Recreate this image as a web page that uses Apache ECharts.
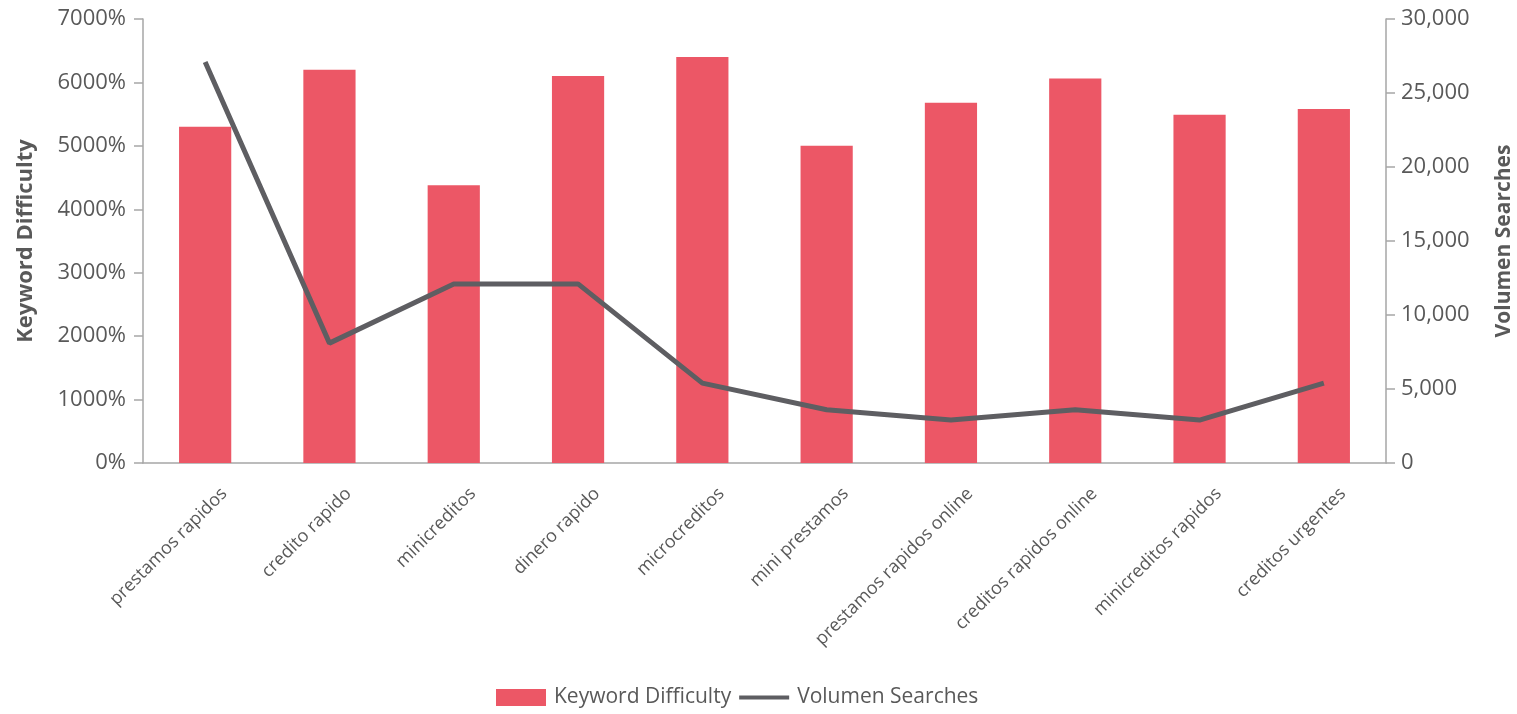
<!DOCTYPE html>
<html><head><meta charset="utf-8">
<script src="https://cdn.jsdelivr.net/npm/echarts@6/dist/echarts.min.js"></script>
<style>html,body{margin:0;padding:0;background:#fff}#c{width:1517px;height:714px}</style>
</head><body><div id="c"></div>
<script>
const categories = ["prestamos rapidos","credito rapido","minicreditos","dinero rapido","microcreditos","mini prestamos","prestamos rapidos online","creditos rapidos online","minicreditos rapidos","creditos urgentes"];
const keywordDifficulty = [5300, 6200, 4380, 6100, 6400, 5000, 5680, 6060, 5490, 5580];
const volumenSearches = [27100, 8100, 12100, 12100, 5400, 3600, 2900, 3600, 2900, 5400];
const leftTicks = {min:0, max:7000, interval:1000};
const rightTicks = {min:0, max:30000, interval:5000};

const font = "'Open Sans', 'Noto Sans', sans-serif";
const txt = '#595959';
const axisCol = '#a6a6a6';
const lineIcon = 'path://M0,0L0.01,0L0.01,20L0,20Z M0,7.5L60,7.5L60,12.5L0,12.5Z';
const chart = echarts.init(document.getElementById('c'));
chart.setOption({
  animation:false,
  textStyle:{fontFamily:font},
  grid:{left:143,right:131,top:19,bottom:251,containLabel:false,outerBoundsMode:'none'},
  legend:{bottom:1,left:491,itemWidth:50,itemHeight:17,itemGap:8,
    textStyle:{fontSize:21,color:txt,fontFamily:font,padding:[0,0,0,3]},
    data:[{name:'Keyword Difficulty',icon:'rect'},{name:'Volumen Searches',icon:lineIcon,itemStyle:{color:'#5e5e62'}}]},
  xAxis:{type:'category',data:categories,
    axisLine:{lineStyle:{color:axisCol,width:1.5}},
    axisTick:{show:false},
    axisLabel:{rotate:45,interval:0,fontSize:18,color:txt,margin:47,padding:[0,-27,0,0],fontFamily:font}},
  yAxis:[
    {type:'value',min:leftTicks.min,max:leftTicks.max,interval:leftTicks.interval,position:'left',
     name:'Keyword Difficulty',nameLocation:'middle',nameRotate:90,nameGap:106,
     nameTextStyle:{fontSize:22,fontWeight:'bold',color:txt,fontFamily:font},
     axisLine:{show:true,lineStyle:{color:axisCol,width:1.5}},
     axisTick:{show:true,length:9,lineStyle:{color:axisCol,width:1.5}},
     splitLine:{show:false},
     axisLabel:{formatter:v=>v+'%',fontSize:22,color:txt,margin:17,fontFamily:font}},
    {type:'value',min:rightTicks.min,max:rightTicks.max,interval:rightTicks.interval,position:'right',
     name:'Volumen Searches',nameLocation:'middle',nameRotate:90,nameGap:108,
     nameTextStyle:{fontSize:21,fontWeight:'bold',color:txt,fontFamily:font},
     axisLine:{show:true,lineStyle:{color:axisCol,width:1.5}},
     axisTick:{show:true,length:9,lineStyle:{color:axisCol,width:1.5}},
     splitLine:{show:false},
     axisLabel:{formatter:v=>v.toLocaleString('en-US'),fontSize:22,color:txt,margin:15,fontFamily:font}}
  ],
  series:[
    {name:'Keyword Difficulty',type:'bar',yAxisIndex:0,data:keywordDifficulty,barWidth:'42%',
     itemStyle:{color:'#ec5766'}},
    {name:'Volumen Searches',type:'line',yAxisIndex:1,data:volumenSearches,symbol:'none',
     lineStyle:{color:'#5e5e62',width:5},itemStyle:{color:'#5e5e62'}}
  ]
});
</script></body></html>
